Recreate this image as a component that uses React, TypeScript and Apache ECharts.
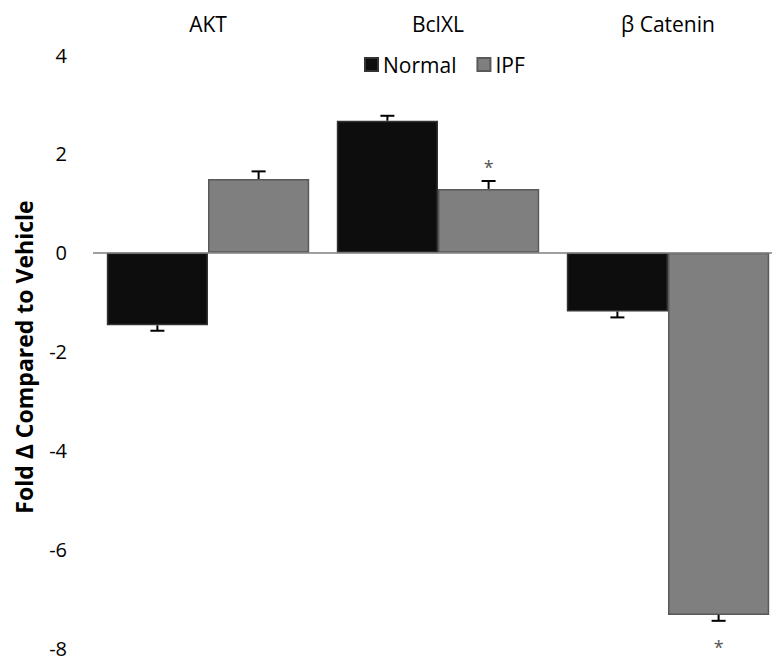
import React, { useEffect, useRef } from "react";
import * as echarts from "echarts";

const categories = ["AKT", "BclXL", "β Catenin"];
const seriesNames = ["Normal", "IPF"];
const normalValues = [-1.47, 2.67, -1.19];
const normalErrors = [0.11, 0.1, 0.12];
const ipfValues = [1.49, 1.29, -7.33];
const ipfErrors = [0.155, 0.16, 0.12];
const normalSignificant = [false, false, false];
const ipfSignificant = [false, true, true];
const yMin = -8;
const yMax = 4;
const yInterval = 2;
const yTitle = "Fold Δ Compared to Vehicle";

const FONT = "'Open Sans', 'Noto Sans', sans-serif";
const CAT_GAP = 0.12;

function errorSeries(values: number[], errors: number[], sig: boolean[], groupIndex: number) {
  return {
    type: "custom",
    name: seriesNames[groupIndex] + " err",
    z: 5,
    silent: true,
    data: values.map((v, i) => [i, v, errors[i], sig[i] ? 1 : 0]),
    renderItem: (params: any, api: any) => {
      const ci = api.value(0);
      const v = api.value(1);
      const e = api.value(2);
      const s = api.value(3);
      const band = api.size([1, 0])[0];
      const barW = (band * (1 - CAT_GAP)) / 2;
      const center = api.coord([ci, 0])[0];
      const x = center + (groupIndex === 0 ? -barW / 2 : barW / 2);
      const y0 = api.coord([ci, v])[1];
      const dir = v >= 0 ? 1 : -1;
      const y1 = api.coord([ci, v + dir * e])[1];
      const cap = 7;
      const children: any[] = [
        { type: "line", shape: { x1: x, y1: y0, x2: x, y2: y1 }, style: { stroke: "#000", lineWidth: 2 } },
        { type: "line", shape: { x1: x - cap, y1: y1, x2: x + cap, y2: y1 }, style: { stroke: "#000", lineWidth: 2 } },
      ];
      if (s) {
        const ty = dir > 0 ? y1 - 14 : y1 + 26;
        children.push({
          type: "text",
          style: {
            text: "*",
            x: x,
            y: ty,
            textAlign: "center",
            textVerticalAlign: "middle",
            fill: "#555",
            font: "18px " + FONT,
          },
        });
      }
      return { type: "group", children };
    },
  };
}

export default function App() {
  const ref = useRef<HTMLDivElement>(null);
  useEffect(() => {
    if (!ref.current) return;
    const chart = echarts.init(ref.current, null, { renderer: "svg" });
    chart.setOption({
      animation: false,
      backgroundColor: "#fff",
      legend: {
        data: seriesNames,
        left: 359,
        top: 49,
        icon: "rect",
        itemWidth: 13,
        itemHeight: 13,
        itemGap: 20,
        textStyle: { fontFamily: FONT, fontSize: 21, color: "#000" },
      },
      grid: { left: 93, right: 0, top: 55, bottom: 12 },
      xAxis: {
        type: "category",
        data: categories,
        position: "top",
        axisLine: { show: false },
        axisTick: { show: false },
        axisLabel: { margin: 21, fontFamily: FONT, fontSize: 21, color: "#000" },
      },
      yAxis: {
        type: "value",
        min: yMin,
        max: yMax,
        interval: yInterval,
        axisLine: { show: false },
        axisTick: { show: false },
        splitLine: { show: false },
        axisLabel: { margin: 26, fontFamily: FONT, fontSize: 20, lineHeight: 17, color: "#000" },
      },
      graphic: [
        {
          type: "text",
          x: 24,
          y: 357,
          rotation: Math.PI / 2,
          style: {
            text: yTitle,
            textAlign: "center",
            textVerticalAlign: "middle",
            font: "bold 23px " + FONT,
            fill: "#000",
          },
        },
      ],
      series: [
        {
          type: "bar",
          name: "Normal",
          data: normalValues,
          barGap: "0%",
          barCategoryGap: CAT_GAP * 100 + "%",
          itemStyle: { color: "#0d0d0d", borderColor: "#333", borderWidth: 1.5 },
          markLine: {
            silent: true,
            symbol: "none",
            label: { show: false },
            lineStyle: { color: "#7f7f7f", width: 1.5, type: "solid" },
            data: [{ yAxis: 0 }],
          },
        },
        {
          type: "bar",
          name: "IPF",
          data: ipfValues,
          barGap: "0%",
          barCategoryGap: CAT_GAP * 100 + "%",
          itemStyle: { color: "#7f7f7f", borderColor: "#595959", borderWidth: 1.5 },
        },
        errorSeries(normalValues, normalErrors, normalSignificant, 0),
        errorSeries(ipfValues, ipfErrors, ipfSignificant, 1),
      ],
    });
    return () => chart.dispose();
  }, []);
  return (
    <div
      style={{
        position: "fixed",
        left: 0,
        top: 0,
        width: 772,
        height: 660,
        overflow: "hidden",
        background: "#fff",
      }}
    >
      <div ref={ref} style={{ width: 783, height: 660 }} />
    </div>
  );
}
